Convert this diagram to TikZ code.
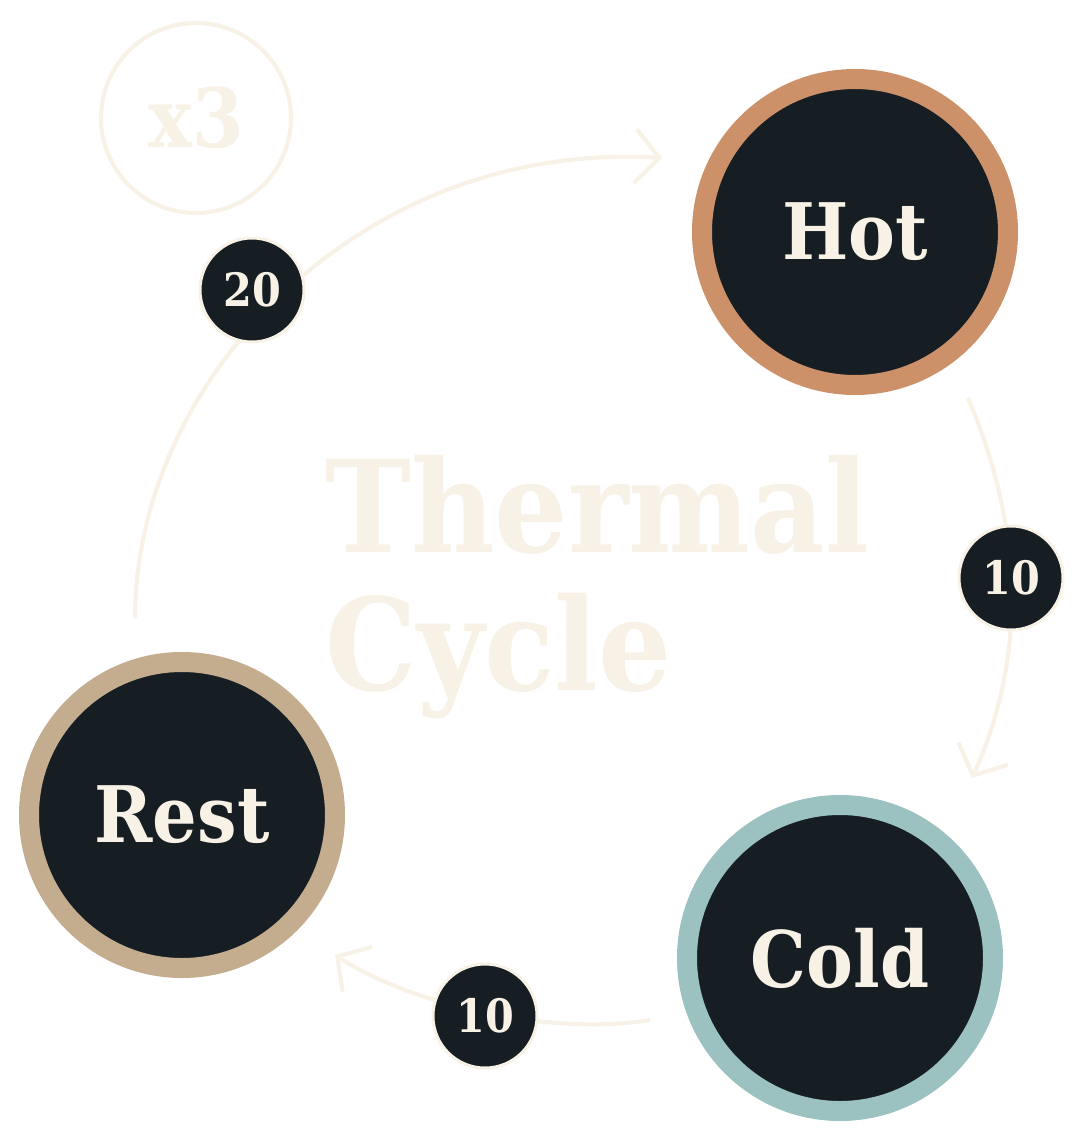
\documentclass[tikz,border=0pt]{standalone}
\usepackage{fontspec}
\setmainfont{DejaVu Serif Condensed}
\usetikzlibrary{arrows.meta}
\definecolor{dark}{HTML}{161E24}
\definecolor{cream}{HTML}{F7F1E6}
\definecolor{hot}{HTML}{CD9169}
\definecolor{cold}{HTML}{9BC1C0}
\definecolor{rest}{HTML}{C4AC8E}
\begin{document}
\begin{tikzpicture}[x=1pt,y=-1pt,
  big/.style={circle,fill=dark,draw=#1,line width=20pt,minimum size=306pt,inner sep=0pt,text=cream,font=\bfseries\fontsize{78}{78}\selectfont},
  badge/.style={circle,fill=dark,draw=cream,line width=3pt,minimum size=104pt,inner sep=0pt,text=cream,font=\bfseries\fontsize{46}{46}\selectfont},
  title/.style={text=cream,font=\bfseries\fontsize{128}{128}\selectfont,anchor=base west},
  arc/.style={draw=cream,line width=4pt,-{Straight Barb[length=24pt,width=54pt,line width=4pt]}}]
\useasboundingbox[fill=white] (0,0) rectangle (1087,1140);
\node[title] (t1) at (322,552) {Thermal};
\node[title] (t2) at (322,690) {Cycle};
\coordinate (a1) at (135,618); \coordinate (a2) at (662,158);
\coordinate (b1) at (968,398); \coordinate (b2) at (972,778);
\coordinate (c1) at (650,1020); \coordinate (c2) at (335,955);
\draw[arc] (a1) .. controls (135,380) and (360,140) .. (a2);
\draw[arc] (b1) .. controls (1020,520) and (1030,650) .. (b2);
\draw[arc] (c1) .. controls (560,1035) and (420,1010) .. (c2);
\node[circle,draw=cream,line width=4pt,minimum size=190pt,inner sep=0pt,text=cream,font=\bfseries\fontsize{82}{82}\selectfont] (x3) at (196,118) {x3};
\node[big=hot] (hot) at (855,232) {Hot};
\node[big=cold] (cold) at (840,958) {Cold};
\node[big=rest] (rest) at (182,815) {Rest};
\node[badge] (n20) at (252,290) {20};
\node[badge] (n10a) at (1011,578) {10};
\node[badge] (n10b) at (485,1016) {10};
\end{tikzpicture}
\end{document}
